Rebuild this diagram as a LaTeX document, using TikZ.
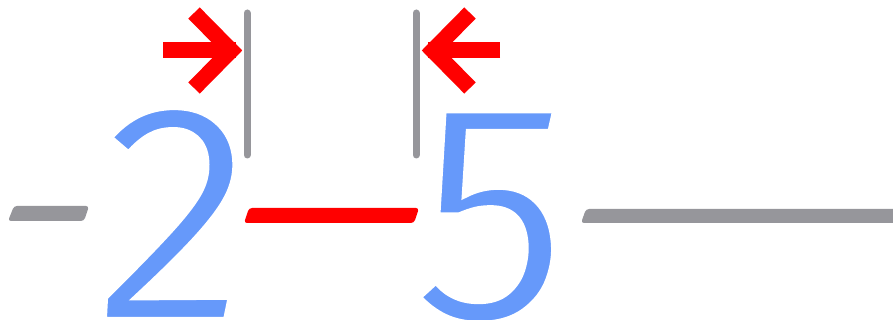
\documentclass[tikz,border=0pt]{standalone}
\usepackage{fontspec}
\newfontfamily\digitfont{Fira Sans}
\newcommand\thinglyph[1]{\special{pdf:literal direct 1 1 1 RG 7 w 2 Tr}#1\special{pdf:literal direct 0 Tr 1 w}}
\definecolor{dgray}{RGB}{150,150,155}
\definecolor{dblue}{RGB}{102,153,250}
\definecolor{dred}{RGB}{255,0,0}
\tikzset{
  digit/.style={inner sep=0pt, outer sep=0pt, text=dblue, transform shape, xslant=-0.08,
    font=\digitfont\itshape\fontsize{315}{315}\selectfont},
  guide/.style={draw=dgray, line width=7pt, line cap=round},
  redarrow/.style={draw=dred, line width=16pt, line cap=butt},
  dashshape/.style={rounded corners=3pt}
}
\begin{document}
\begin{tikzpicture}[x=1pt,y=-1pt]
\useasboundingbox (0,0) rectangle (893,320);
% digits
\node[digit, anchor=base west] (two) at (103,320.5) {\thinglyph{2}};
\node[digit, anchor=base west] (five) at (420,320.5) {\thinglyph{5}};
% dashes
\fill[dgray, dashshape] (14,206) -- (89,206) -- (84,221) -- (8,221) -- cycle;
\fill[dred, dashshape] (249,208) -- (419,208) -- (414,223) -- (244,223) -- cycle;
\fill[dgray, dashshape] (586,209) -- (900,209) -- (900,223) -- (581,223) -- cycle;
% guides
\coordinate (gl1) at (247,13);
\coordinate (gl2) at (247,155);
\coordinate (gr1) at (416,13);
\coordinate (gr2) at (416,155);
\draw[guide] (gl1) -- (gl2);
\draw[guide] (gr1) -- (gr2);
% arrows
\coordinate (ra0) at (163,50.5);
\coordinate (ra1) at (236,50.5);
\coordinate (rh1) at (194,13);
\coordinate (rh0) at (231,50.5);
\coordinate (rh2) at (194,88);
\draw[redarrow] (ra0) -- (ra1);
\draw[redarrow, miter limit=4] (rh1) -- (rh0) -- (rh2);
\coordinate (la0) at (500,50.5);
\coordinate (la1) at (428,50.5);
\coordinate (lh1) at (470,13);
\coordinate (lh0) at (433,50.5);
\coordinate (lh2) at (470,88);
\draw[redarrow] (la0) -- (la1);
\draw[redarrow, miter limit=4] (lh1) -- (lh0) -- (lh2);
\end{tikzpicture}
\end{document}
